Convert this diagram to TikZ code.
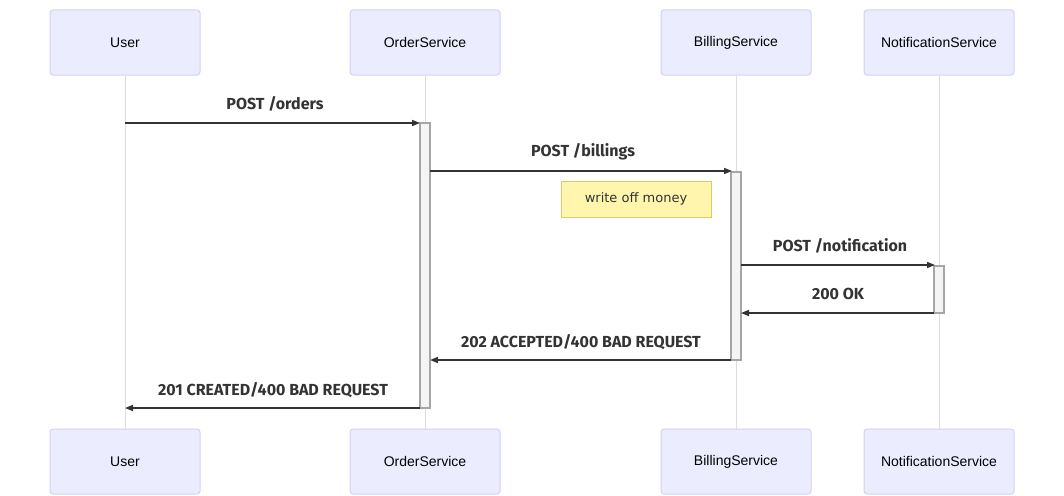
\documentclass[tikz,border=0pt]{standalone}
\usepackage{fontspec}
\setmainfont{Liberation Sans}
\newfontfamily\msgfont{Fira Sans}
\newfontfamily\notefont{DejaVu Sans}
\usetikzlibrary{arrows.meta}
\definecolor{actfill}{HTML}{ECECFF}
\definecolor{actdraw}{HTML}{D4D0F4}
\definecolor{lifecol}{HTML}{DDDDDD}
\definecolor{actvfill}{HTML}{F4F4F4}
\definecolor{actvdraw}{HTML}{A6A6A6}
\definecolor{notefill}{HTML}{FFF5AD}
\definecolor{notedraw}{HTML}{D2CE6A}
\definecolor{msgcol}{HTML}{333333}
\tikzset{
  actorbox/.style={draw=actdraw, fill=actfill, line width=1pt, rounded corners=3pt,
    minimum width=150pt, minimum height=65pt, inner sep=0pt, font=\fontsize{14pt}{16pt}\selectfont, text=black},
  lifeline/.style={draw=lifecol, line width=1pt},
  activation/.style={draw=actvdraw, fill=actvfill, line width=1.5pt, minimum width=10pt, inner sep=0pt},
  msg/.style={draw=msgcol, line width=1.5pt, -{Triangle[length=8pt,width=6pt]}},
  msglabel/.style={font=\msgfont\bfseries\fontsize{16pt}{18pt}\selectfont, text=msgcol, inner sep=0pt},
  notebox/.style={draw=notedraw, fill=notefill, line width=1pt, minimum width=150pt, minimum height=36pt,
    inner sep=0pt, font=\notefont\fontsize{13pt}{15pt}\selectfont, text=msgcol},
}
\begin{document}
\begin{tikzpicture}[x=1pt,y=-1pt]
\path[use as bounding box] (0,0) rectangle (1064,495);
% actors top
\node[actorbox] (uT) at (125,42.5) {User};
\node[actorbox] (oT) at (425,42.5) {OrderService};
\node[actorbox] (bT) at (736,42.5) {BillingService};
\node[actorbox] (nT) at (939,42.5) {NotificationService};
% actors bottom
\node[actorbox] (uB) at (125,461.5) {User};
\node[actorbox] (oB) at (425,461.5) {OrderService};
\node[actorbox] (bB) at (736,461.5) {BillingService};
\node[actorbox] (nB) at (939,461.5) {NotificationService};
% lifelines
\draw[lifeline] (uT.south) -- (uB.north);
\draw[lifeline] (oT.south) -- (oB.north);
\draw[lifeline] (bT.south) -- (bB.north);
\draw[lifeline] (nT.south) -- (nB.north);
% activations
\node[activation, minimum height=285pt] (aO) at (425,265.5) {};
\node[activation, minimum height=188pt] (aB) at (736,266) {};
\node[activation, minimum height=47pt] (aN) at (939,289.5) {};
% coordinates
\coordinate (u1) at (125,123);
\coordinate (o1) at (420,123);
\coordinate (o2) at (430,171);
\coordinate (b2) at (732,171);
\coordinate (b4) at (741,265);
\coordinate (n4) at (935,265);
\coordinate (n5) at (934,313);
\coordinate (b5) at (741,313);
\coordinate (b6) at (731,360);
\coordinate (o6) at (430,360);
\coordinate (o7) at (420,408);
\coordinate (u7) at (125,408);
% messages
\draw[msg] (u1) -- (o1);
\node[msglabel] (l1) at (275,104) {POST /orders};
\draw[msg] (o2) -- (b2);
\node[msglabel] (l2) at (583,152) {POST /billings};
\node[notebox] (note) at (636,199) {write off money};
\draw[msg] (b4) -- (n4);
\node[msglabel] (l4) at (840,246) {POST /notification};
\draw[msg] (n5) -- (b5);
\node[msglabel] (l5) at (838,294) {200 OK};
\draw[msg] (b6) -- (o6);
\node[msglabel] (l6) at (581,342) {202 ACCEPTED/400 BAD REQUEST};
\draw[msg] (o7) -- (u7);
\node[msglabel] (l7) at (273,390) {201 CREATED/400 BAD REQUEST};
\end{tikzpicture}
\end{document}
